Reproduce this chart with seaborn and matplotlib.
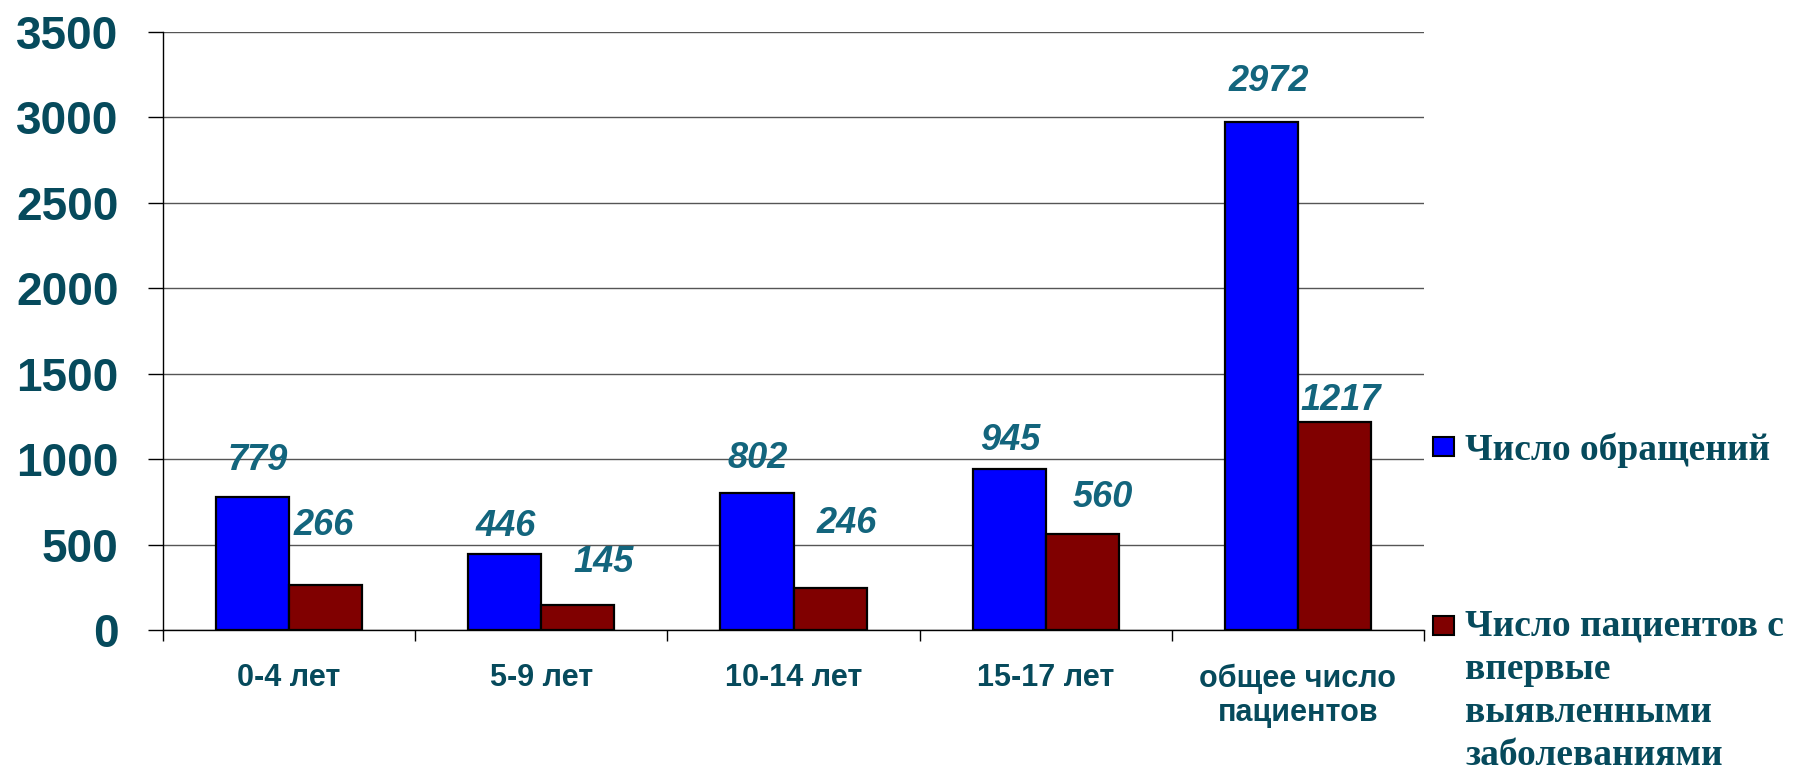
import matplotlib.pyplot as plt
import seaborn as sns
import pandas as pd
import numpy as np
from matplotlib.patches import Rectangle

categories = ['0-4 лет', '5-9 лет', '10-14 лет', '15-17 лет', 'общее число\nпациентов']
visits = [779, 446, 802, 945, 2972]
new_patients = [266, 145, 246, 560, 1217]
series_names = ['Число обращений',
                'Число пациентов с\nвпервые\nвыявленными\nзаболеваниями']
yticks = [0, 500, 1000, 1500, 2000, 2500, 3000, 3500]

# label nudges in pixels: (dx, baseline height above bar top)
visits_nudge = [(5, 27), (1, 18), (1, 25), (1, 19), (7, 31)]
new_nudge = [(-2, 50), (26, 33), (17, 55), (21, 27), (6, 12)]

W, H = 1794, 776
dark = '#064a5c'
label_col = '#13657d'
colors = ['#0000ff', '#800000']

df = pd.DataFrame({
    'group': categories * 2,
    'series': [series_names[0]] * len(visits) + [series_names[1]] * len(new_patients),
    'value': visits + new_patients,
})

sns.set_style('white')
plt.rcParams['font.family'] = ['Liberation Sans', 'DejaVu Sans']

fig = plt.figure(figsize=(W / 100, H / 100), dpi=100)
ax = fig.add_axes([163 / W, 1 - 630 / H, (1424 - 163) / W, (630 - 32) / H])

sns.barplot(data=df, x='group', y='value', hue='series', palette=colors,
            width=0.58, edgecolor='black', linewidth=1.6, saturation=1,
            errorbar=None, legend=False, ax=ax, zorder=3)

for cont, nudge in zip(ax.containers, [visits_nudge, new_nudge]):
    for bar, (dx, dy) in zip(cont, nudge):
        ax.annotate(f'{int(bar.get_height())}',
                    (bar.get_x() + bar.get_width() / 2, bar.get_height()),
                    xytext=(dx, dy), textcoords='offset pixels',
                    ha='center', va='baseline', fontsize=26,
                    fontweight='bold', fontstyle='italic', color=label_col)

ax.set_ylim(0, 3500)
ax.set_xlim(-0.5, len(categories) - 0.5)
ax.set_yticks(yticks)
ax.set_xlabel('')
ax.set_ylabel('')
ax.yaxis.grid(True, color='#555555', linewidth=1)
ax.set_axisbelow(True)
for s in ['top', 'right']:
    ax.spines[s].set_visible(False)
for s in ['left', 'bottom']:
    ax.spines[s].set_color('black')
    ax.spines[s].set_linewidth(1)

ax.set_xticks(np.arange(len(categories)))
ax.set_xticklabels(categories)
ax.set_xticks(np.arange(-0.5, len(categories)), minor=True)
ax.tick_params(axis='x', which='major', length=0, pad=24, labelsize=22,
               labelcolor=dark)
ax.tick_params(axis='x', which='minor', length=8, width=1, color='black',
               direction='out', bottom=True)
ax.tick_params(axis='y', length=11, width=1, color='black', direction='out',
               left=True, pad=21, labelsize=33, labelcolor=dark)
for t in ax.get_xticklabels() + ax.get_yticklabels():
    t.set_fontweight('bold')

# legend drawn by hand to keep the square next to the first line
legend_rows = [(437, 460), (616, 636)]
for name, col, (sq_top, base) in zip(series_names, colors, legend_rows):
    fig.add_artist(Rectangle((1433 / W, 1 - (sq_top + 19) / H), 21 / W, 19 / H,
                             transform=fig.transFigure, facecolor=col,
                             edgecolor='black', linewidth=1.5))
    lines = name.split('\n')
    for i, line in enumerate(lines):
        fig.text(1465 / W, 1 - (base + i * 43) / H, line, ha='left',
                 va='baseline', fontsize=27, fontweight='bold', color=dark,
                 family=['Liberation Serif', 'DejaVu Serif'])

fig.savefig('out.png', dpi=100)
